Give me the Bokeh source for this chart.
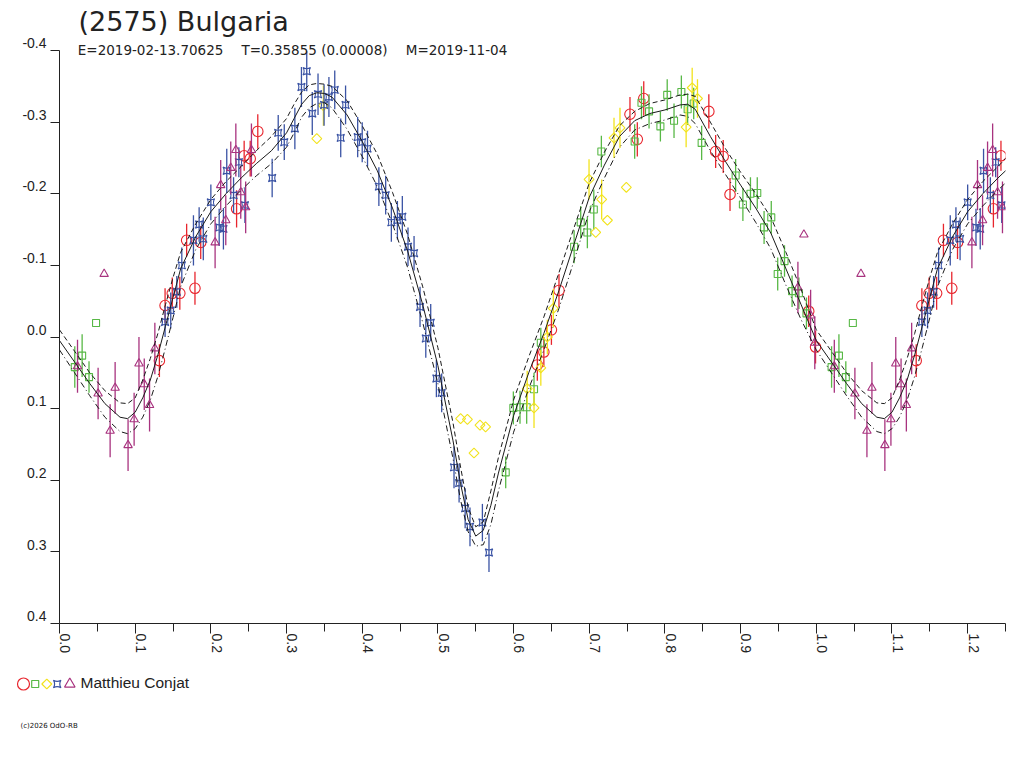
import math
import pandas as pd
from bokeh.plotting import figure
from bokeh.models import Range1d, FixedTicker, CustomJSTickFormatter
from bokeh.layouts import column
from bokeh.core.properties import value
from bokeh.embed import file_html
from bokeh.resources import INLINE

# ---------------- text ----------------
TITLE = "(2575) Bulgaria"
SUBTITLE_PARTS = ["E=2019-02-13.70625", "T=0.35855 (0.00008)", "M=2019-11-04"]
OBSERVER = "Matthieu Conjat"
COPYRIGHT = "(c)2026 OdO-RB"

# ---------------- ticks ----------------
x_ticks = [0.0, 0.1, 0.2, 0.3, 0.4, 0.5, 0.6, 0.7, 0.8, 0.9, 1.0, 1.1, 1.2]
x_minor_ticks = [0.05, 0.15, 0.25, 0.35, 0.45, 0.55, 0.65, 0.75, 0.85, 0.95, 1.05, 1.15, 1.25]
x_tick_labels = ["0.0", "0.1", "0.2", "0.3", "0.4", "0.5", "0.6", "0.7", "0.8", "0.9", "1.0", "1.1", "1.2"]
y_ticks = [-0.4, -0.3, -0.2, -0.1, 0.0, 0.1, 0.2, 0.3, 0.4]
y_tick_labels = ["-0.4", "-0.3", "-0.2", "-0.1", "0.0", "0.1", "0.2", "0.3", "0.4"]

# ---------------- data (phase, magnitude, error) ----------------
red_phase = [0.132, 0.1395, 0.149, 0.159, 0.179, 0.168, 0.1866, 0.234, 0.244, 0.252, 0.262,
             0.6314, 0.640, 0.650, 0.660, 0.7538, 0.7635, 0.772, 0.858, 0.867, 0.877, 0.886,
             0.990, 0.999]
red_mag = [0.033, -0.044, -0.061, -0.061, -0.068, -0.135, -0.132, -0.179, -0.253, -0.249, -0.287,
           0.039, 0.021, -0.010, -0.065, -0.311, -0.276, -0.333, -0.315, -0.259, -0.252, -0.199,
           -0.036, 0.014]
red_err = [0.023, 0.024, 0.022, 0.023, 0.023, 0.023, 0.023, 0.026, 0.021, 0.025, 0.024,
           0.022, 0.021, 0.021, 0.023, 0.024, 0.024, 0.024, 0.024, 0.023, 0.023, 0.023,
           0.022, 0.023]

green_phase = [0.0483, 0.0299, 0.0202, 0.039, 0.5896, 0.5997, 0.6085, 0.6173, 0.627, 0.636,
               0.680, 0.6887, 0.6975, 0.706, 0.716, 0.760, 0.769, 0.779, 0.794, 0.803, 0.812,
               0.8217, 0.830, 0.838, 0.8485, 0.8934, 0.903, 0.913, 0.922, 0.931, 0.9405, 0.949,
               0.958, 0.968, 0.977, 0.987]
green_mag = [-0.0195, 0.026, 0.042, 0.056, 0.189, 0.099, 0.098, 0.098, 0.073, 0.008,
             -0.126, -0.160, -0.146, -0.178, -0.259, -0.273, -0.327, -0.315, -0.294, -0.338, -0.302,
             -0.342, -0.318, -0.326, -0.271, -0.2255, -0.185, -0.200, -0.201, -0.153, -0.167, -0.088,
             -0.106, -0.064, -0.061, -0.033]
green_err = [0.0, 0.030, 0.029, 0.022, 0.022, 0.023, 0.023, 0.023, 0.023, 0.021,
             0.023, 0.023, 0.022, 0.028, 0.022, 0.024, 0.023, 0.024, 0.021, 0.022, 0.024,
             0.023, 0.022, 0.022, 0.024, 0.023, 0.023, 0.023, 0.022, 0.023, 0.023, 0.023,
             0.022, 0.022, 0.022, 0.022]

yellow_phase = [0.340, 0.3487, 0.530, 0.539, 0.5556, 0.563, 0.5477, 0.618, 0.627, 0.636, 0.6446,
                0.6525, 0.6997, 0.7085, 0.7164, 0.724, 0.7327, 0.7406, 0.749, 0.828, 0.836, 0.843]
yellow_mag = [-0.277, -0.323, 0.114, 0.115, 0.123, 0.1255, 0.162, 0.072, 0.099, 0.043, 0.0,
              -0.040, -0.220, -0.146, -0.192, -0.163, -0.278, -0.292, -0.209, -0.293, -0.348, -0.333]
yellow_err = [0.0, 0.028, 0.0, 0.0, 0.0, 0.0, 0.0, 0.025, 0.028, 0.025, 0.024,
              0.027, 0.028, 0.0, 0.028, 0.0, 0.028, 0.028, 0.0, 0.028, 0.028, 0.027]

blue_phase = [0.1395, 0.147, 0.155, 0.1616, 0.177, 0.1845, 0.190, 0.200, 0.211, 0.2166, 0.221,
              0.230, 0.237, 0.245, 0.281, 0.289, 0.297, 0.311, 0.3197, 0.3267, 0.334, 0.3416,
              0.3496, 0.356, 0.3637, 0.3716, 0.378, 0.394, 0.400, 0.407, 0.422, 0.431, 0.4385,
              0.4465, 0.453, 0.4605, 0.4685, 0.4764, 0.484, 0.4905, 0.498, 0.505, 0.5213, 0.528,
              0.536, 0.5424, 0.5588, 0.5675]
blue_mag = [-0.021, -0.037, -0.063, -0.100, -0.135, -0.157, -0.137, -0.188, -0.153, -0.151, -0.232,
            -0.198, -0.244, -0.184, -0.222, -0.285, -0.272, -0.291, -0.349, -0.371, -0.312, -0.339,
            -0.324, -0.335, -0.345, -0.278, -0.324, -0.279, -0.272, -0.263, -0.210, -0.198, -0.160,
            -0.163, -0.168, -0.126, -0.117, -0.042, 0.002, -0.020, 0.058, 0.078, 0.182, 0.204,
            0.239, 0.265, 0.259, 0.301]
blue_err = [0.021, 0.025, 0.022, 0.025, 0.035, 0.024, 0.030, 0.025, 0.026, 0.029, 0.031,
            0.025, 0.021, 0.025, 0.027, 0.025, 0.025, 0.029, 0.028, 0.028, 0.030, 0.029,
            0.029, 0.028, 0.027, 0.027, 0.027, 0.028, 0.028, 0.025, 0.027, 0.027, 0.027,
            0.027, 0.029, 0.027, 0.024, 0.028, 0.027, 0.026, 0.026, 0.027, 0.029, 0.027,
            0.028, 0.027, 0.026, 0.027]

purple_phase = [0.059, 0.0238, 0.051, 0.0735, 0.0669, 0.0906, 0.0986, 0.105, 0.112, 0.119, 0.126,
                0.2056, 0.213, 0.2197, 0.2263, 0.233, 0.2395, 0.246, 0.2536,
                0.9836, 0.9757, 0.9925, 0.998]
purple_mag = [-0.088, 0.041, 0.079, 0.071, 0.131, 0.151, 0.115, 0.037, 0.066, 0.095, 0.016,
              -0.132, -0.212, -0.163, -0.236, -0.261, -0.202, -0.181, -0.261,
              -0.143, -0.069, -0.030, 0.008]
purple_err = [0.0, 0.037, 0.036, 0.036, 0.037, 0.036, 0.037, 0.037, 0.036, 0.037, 0.036,
              0.036, 0.035, 0.035, 0.037, 0.037, 0.037, 0.036, 0.037,
              0.0, 0.036, 0.036, 0.037]

# ---------------- fitted light curve and its envelope ----------------
fit_phase = [0.00, 0.02, 0.04, 0.06, 0.08, 0.09, 0.10, 0.11, 0.12, 0.13, 0.14, 0.15, 0.16, 0.18,
             0.20, 0.22, 0.24, 0.26, 0.28, 0.30, 0.31, 0.32, 0.33, 0.34, 0.35, 0.36, 0.38, 0.40,
             0.42, 0.44, 0.46, 0.48, 0.50, 0.52, 0.53, 0.54, 0.55, 0.56, 0.57, 0.58, 0.60, 0.62,
             0.64, 0.66, 0.68, 0.70, 0.72, 0.74, 0.76, 0.78, 0.80, 0.82, 0.83, 0.84, 0.86, 0.88,
             0.90, 0.92, 0.94, 0.96, 0.98, 1.00]
fit_mag = [0.005, 0.035, 0.065, 0.093, 0.112, 0.114, 0.105, 0.085, 0.060, 0.025, -0.015, -0.055,
           -0.095, -0.140, -0.175, -0.200, -0.222, -0.242, -0.260, -0.285, -0.305, -0.325, -0.337,
           -0.341, -0.340, -0.335, -0.310, -0.273, -0.232, -0.180, -0.120, -0.045, 0.040, 0.145,
           0.205, 0.255, 0.278, 0.270, 0.235, 0.190, 0.110, 0.050, -0.005, -0.065, -0.130, -0.195,
           -0.240, -0.280, -0.302, -0.312, -0.317, -0.324, -0.325, -0.318, -0.280, -0.245, -0.212,
           -0.180, -0.145, -0.095, -0.045, 0.005]
fit_upper = [-0.010, 0.020, 0.050, 0.075, 0.092, 0.093, 0.085, 0.060, 0.030, -0.005, -0.045, -0.083,
             -0.118, -0.158, -0.192, -0.217, -0.238, -0.260, -0.280, -0.305, -0.325, -0.342, -0.352,
             -0.354, -0.353, -0.350, -0.330, -0.295, -0.255, -0.202, -0.143, -0.070, 0.015, 0.120,
             0.182, 0.238, 0.265, 0.258, 0.215, 0.168, 0.088, 0.028, -0.028, -0.090, -0.153, -0.215,
             -0.258, -0.295, -0.315, -0.326, -0.331, -0.338, -0.339, -0.336, -0.300, -0.263, -0.230,
             -0.200, -0.167, -0.118, -0.066, -0.010]
fit_lower = [0.018, 0.050, 0.082, 0.112, 0.132, 0.135, 0.128, 0.112, 0.088, 0.055, 0.015, -0.027,
             -0.070, -0.122, -0.158, -0.183, -0.205, -0.225, -0.242, -0.265, -0.285, -0.307, -0.320,
             -0.326, -0.327, -0.320, -0.290, -0.252, -0.210, -0.158, -0.097, -0.020, 0.065, 0.170,
             0.228, 0.272, 0.292, 0.290, 0.262, 0.215, 0.133, 0.072, 0.018, -0.040, -0.107, -0.175,
             -0.222, -0.265, -0.289, -0.298, -0.303, -0.310, -0.308, -0.298, -0.260, -0.227, -0.194,
             -0.160, -0.123, -0.072, -0.024, 0.018]

X_START, X_END = 0.0, 1.25
Y_BOTTOM, Y_TOP = 0.4, -0.4
REPEAT = X_END - 1.0
INK = "#222222"

W, H_MAIN, H_LEG = 1008, 660, 100
B_LEFT, B_RIGHT, B_TOP, B_BOTTOM = 59, 3, 50, 37
BASELINE_SHIFT = 0.346  # em: lifts the anchor so the glyph baseline lands on the requested spot


def folded(phase, mag, err):
    df = pd.DataFrame({"phase": phase, "mag": mag, "err": err})
    rep = df[df["phase"] < REPEAT].copy()
    rep["phase"] = rep["phase"] + 1.0
    df = pd.concat([df, rep], ignore_index=True)
    df["lo"] = df["mag"] - df["err"]
    df["hi"] = df["mag"] + df["err"]
    return df


def folded_curve():
    df = pd.DataFrame({"phase": fit_phase, "mag": fit_mag, "upper": fit_upper, "lower": fit_lower})
    rep = df[(df["phase"] > 0) & (df["phase"] <= REPEAT + 0.011)].copy()
    rep["phase"] = rep["phase"] + 1.0
    return pd.concat([df, rep], ignore_index=True)


series = [
    ("red", red_phase, red_mag, red_err, "circle", "#E8262E", 10.5, 0.0),
    ("green", green_phase, green_mag, green_err, "square", "#58B846", 7, 0.0),
    ("yellow", yellow_phase, yellow_mag, yellow_err, "square", "#F2E31C", 7, math.pi / 4),
    ("blue", blue_phase, blue_mag, blue_err, "square_pin", "#3A53A4", 7.5, 0.0),
    ("purple", purple_phase, purple_mag, purple_err, "triangle", "#A8337F", 8.5, 0.0),
]

p = figure(width=W, height=H_MAIN,
           x_range=Range1d(X_START, X_END), y_range=Range1d(Y_BOTTOM, Y_TOP),
           output_backend="svg", toolbar_location=None,
           min_border_left=B_LEFT, min_border_right=B_RIGHT,
           min_border_top=B_TOP, min_border_bottom=B_BOTTOM)
p.frame_align = False
p.outline_line_color = None
p.grid.visible = False
p.background_fill_color = "white"
p.border_fill_color = "white"

p.xaxis.ticker = FixedTicker(ticks=x_ticks, minor_ticks=x_minor_ticks)
p.yaxis.ticker = FixedTicker(ticks=y_ticks, minor_ticks=[])
for ax in (p.xaxis[0], p.yaxis[0]):
    ax.formatter = CustomJSTickFormatter(code="return ''")
    ax.major_label_text_font_size = "0px"
    ax.axis_line_color = INK
    ax.major_tick_line_color = INK
    ax.minor_tick_line_color = INK
    ax.major_tick_in = 0
    ax.minor_tick_in = 0
p.xaxis.major_tick_out = 10
p.xaxis.minor_tick_out = 8
p.yaxis.major_tick_out = 9
p.yaxis.minor_tick_out = 0

# data: error bars then markers
for name, ph, mg, er, marker, color, size, ang in series:
    df = folded(ph, mg, er)
    bars = df[df["err"] > 0]
    p.segment(x0=bars["phase"], y0=bars["lo"], x1=bars["phase"], y1=bars["hi"],
              line_color=color, line_width=1.3)
    p.scatter(x=df["phase"], y=df["mag"], marker=marker, size=size, angle=ang,
              fill_color=None, line_color=color, line_width=1.1)

# fitted curve with envelope
cv = folded_curve()
p.line(cv["phase"], cv["upper"], line_color="#1a1a1a", line_width=1, line_dash="5 3")
p.line(cv["phase"], cv["lower"], line_color="#1a1a1a", line_width=1, line_dash="6 3 1 3")
p.line(cv["phase"], cv["mag"], line_color="#1a1a1a", line_width=1)


def put_text(fig, x, y, txt, xo, yo, font, size_px, color=INK, align="left", angle=0.0):
    s = BASELINE_SHIFT * size_px
    xo = xo - s * math.sin(angle)
    yo = yo - s * math.cos(angle)
    r = fig.text(x=[x], y=[y], text=[txt], x_offset=xo, y_offset=yo, angle=angle,
                 text_align=align, text_baseline="alphabetic",
                 text_font=value(font), text_font_size=f"{size_px}px", text_color=color)
    r.level = "overlay"
    return r


# tick labels
for t, s in zip(y_ticks, y_tick_labels):
    put_text(p, X_START, t, s, -13, -2.5, "Liberation Sans", 14, align="right")
for t, s in zip(x_ticks, x_tick_labels):
    put_text(p, t, Y_BOTTOM, s, 1, 10, "Liberation Sans", 14, angle=-math.pi / 2)

# title and subtitle
put_text(p, X_START, Y_TOP, TITLE, 19, -20, "DejaVu Sans", 27)
for s, xo in zip(SUBTITLE_PARTS, [18.3, 182.0, 346.3]):
    put_text(p, X_START, Y_TOP, s, xo, 4, "DejaVu Sans", 13.5)

# legend strip below the chart (its own pixel-unit canvas)
lg = figure(width=W, height=H_LEG, x_range=Range1d(0, W), y_range=Range1d(H_LEG, 0),
            output_backend="svg", toolbar_location=None, x_axis_type=None, y_axis_type=None,
            min_border=0)
lg.frame_align = False
lg.outline_line_color = None
lg.background_fill_color = "white"
lg.border_fill_color = "white"

legend_px = [23, 34.7, 46.3, 56.7, 69.3]
legend_sizes = [12, 7, 7, 7.5, 10.5]
LEG_Y = 683.5 - H_MAIN
for (name, ph, mg, er, marker, color, size, ang), lx, ls in zip(series, legend_px, legend_sizes):
    lg.scatter(x=[lx], y=[LEG_Y], marker=marker, size=ls, angle=ang,
               fill_color=None, line_color=color, line_width=1.2)
put_text(lg, 80, 687.5 - H_MAIN, OBSERVER, 0, 0, "Liberation Sans", 15.5)
put_text(lg, 20, 728 - H_MAIN, COPYRIGHT, 0, 0, "DejaVu Sans", 7, color="#111111")

layout = column(p, lg, spacing=0)
open("out.html", "w").write(file_html(layout, INLINE))
